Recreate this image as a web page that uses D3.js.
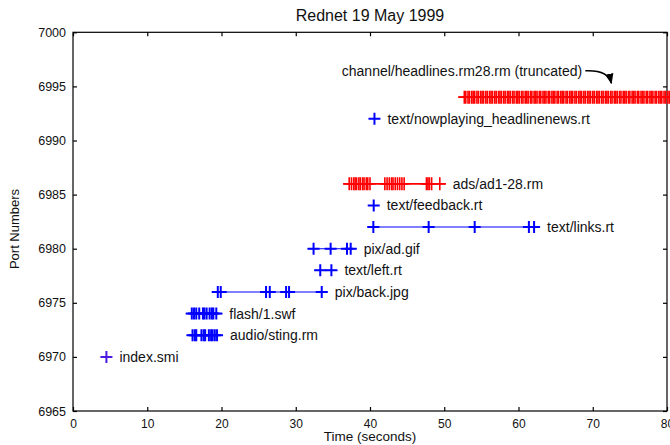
<!DOCTYPE html>
<html><head><meta charset="utf-8">
<script src="https://cdn.jsdelivr.net/npm/d3@7"></script>
<style>
body{margin:0;background:#fff;}
text{font-family:"Liberation Sans",Arial,Helvetica,sans-serif;fill:#111;}
</style></head>
<body><svg id="c" width="670" height="445"></svg>
<script>
// ---- data ----
const title = "Rednet 19 May 1999";
const xTitle = "Time (seconds)";
const yTitle = "Port Numbers";
const xTicks = [0,10,20,30,40,50,60,70,80];
const yTicks = [6965,6970,6975,6980,6985,6990,6995,7000];

const streamNames = ["index.smi","audio/sting.rm","flash/1.swf","pix/back.jpg","text/left.rt",
  "pix/ad.gif","text/links.rt","text/feedback.rt","ads/ad1-28.rm",
  "text/nowplaying_headlinenews.rt","channel/headlines.rm28.rm (truncated)"];
const streamPorts = [6970,6972,6974,6976,6978,6980,6982,6984,6986,6992,6994];
const streamKinds = ["index","blue","blue","blue","blue","blue","blue","blue","red","blue","red"];

const tIndex = [4.5];
const tAudio = [16.1,16.4,16.6,17.3,17.6,17.8,18.3,18.6,18.8,19.1,19.4];
const tFlash = [16.0,16.3,16.6,17.0,17.5,17.7,18.0,18.4,18.7,18.9,19.3];
const tBack = [19.5,19.9,26.0,26.5,28.7,29.1,33.5];
const tLeft = [33.3,34.8];
const tAd = [32.4,34.7,36.9,37.4];
const tLinks = [40.45,47.9,54.1,61.4,62.1];
const tFeedback = [40.5];
const tAds = [37.2,37.5,37.8,38.0,38.2,38.5,38.7,39.0,39.2,39.5,39.7,40.0,
              42.0,42.3,42.6,42.9,43.1,43.4,43.7,44.0,44.3,44.6,
              47.6,47.8,48.0,48.3,49.4];
const tNowplaying = [40.6];
const tHeadlines = [52.7,52.9,53.2,53.4,53.7,53.9,54.1,54.4,54.6,54.9,55.1,55.3,55.6,55.8,56.1,56.3,
  56.5,56.8,57.0,57.3,57.5,57.7,58.0,58.2,58.5,58.7,58.9,59.2,59.4,59.7,59.9,60.1,60.4,60.6,60.9,
  61.1,61.3,61.6,61.8,62.1,62.3,62.5,62.8,63.0,63.3,63.5,63.7,64.0,64.2,64.5,64.7,64.9,65.2,65.4,
  65.7,65.9,66.1,66.4,66.6,66.9,67.1,67.3,67.6,67.8,68.1,68.3,68.5,68.8,69.0,69.3,69.5,69.7,70.0,
  70.2,70.5,70.7,70.9,71.2,71.4,71.7,71.9,72.1,72.4,72.6,72.9,73.1,73.3,73.6,73.8,74.1,74.3,74.5,
  74.8,75.0,75.3,75.5,75.7,76.0,76.2,76.5,76.7,76.9,77.2,77.4,77.7,77.9,78.1,78.4,78.6,78.9,79.1,
  79.3,79.6,79.8,80.1,80.3,80.5];
const streamTimes = [tIndex,tAudio,tFlash,tBack,tLeft,tAd,tLinks,tFeedback,tAds,tNowplaying,tHeadlines];

// ---- drawing ----
const svg = d3.select("#c");
const L = 73, R = 667, T = 32.3, B = 411;
const x = d3.scaleLinear().domain([0,80]).range([L,R]);
const y = d3.scaleLinear().domain([6965,7000]).range([B,T]);

const colorOf = {blue:"#0000ff", red:"#ff0000", index:"#4a1ae0"};

// frame
svg.append("rect").attr("x",L).attr("y",T).attr("width",R-L).attr("height",B-T)
  .attr("fill","none").attr("stroke","#000").attr("stroke-width",1.2);

// axes with inward ticks
const gx = svg.append("g").attr("transform",`translate(0,${B})`)
  .call(d3.axisBottom(x).tickValues(xTicks).tickSizeInner(-4).tickSizeOuter(0).tickPadding(8));
const gxTop = svg.append("g").attr("transform",`translate(0,${T})`)
  .call(d3.axisTop(x).tickValues(xTicks).tickSizeInner(-4).tickSizeOuter(0).tickFormat(""));
const gy = svg.append("g").attr("transform",`translate(${L},0)`)
  .call(d3.axisLeft(y).tickValues(yTicks).tickSizeInner(-4).tickSizeOuter(0).tickPadding(7).tickFormat(d3.format("d")));
const gyR = svg.append("g").attr("transform",`translate(${R},0)`)
  .call(d3.axisRight(y).tickValues(yTicks).tickSizeInner(-4).tickSizeOuter(0).tickFormat(""));
[gx,gxTop,gy,gyR].forEach(g=>{
  g.select(".domain").remove();
  g.selectAll(".tick line").attr("stroke","#000").attr("stroke-width",1.2);
});
gx.selectAll(".tick text").attr("font-size",12).attr("fill","#111")
  .attr("font-family","Liberation Sans,Arial,sans-serif");
gy.selectAll(".tick text").attr("font-size",12.5).attr("fill","#111")
  .attr("font-family","Liberation Sans,Arial,sans-serif");

// titles
svg.append("text").attr("x",(L+R)/2).attr("y",21).attr("text-anchor","middle")
  .attr("font-size",16).text(title);
svg.append("text").attr("x",(L+R)/2).attr("y",441).attr("text-anchor","middle")
  .attr("font-size",13.5).text(xTitle);
svg.append("text").attr("transform","translate(19,229) rotate(-90)").attr("text-anchor","middle")
  .attr("font-size",13).text(yTitle);

// streams
const hs = 6; // cross half size
streamNames.forEach((name,i)=>{
  const ts = streamTimes[i], py = y(streamPorts[i]), kind = streamKinds[i];
  const col = colorOf[kind];
  const g = svg.append("g");
  const isRed = kind==="red";
  if (ts.length>1){
    g.append("line").attr("x1",x(d3.min(ts))-hs).attr("x2",x(d3.max(ts))+hs)
      .attr("y1",py).attr("y2",py).attr("stroke",col).attr("stroke-width",isRed?1.8:1.1);
  }
  g.selectAll("path.m").data(ts).join("path").attr("class","m")
    .attr("d",d=>{const cx=x(d);return `M${cx-hs},${py}H${cx+hs}M${cx},${py-hs-(isRed?0.5:0)}V${py+hs+(isRed?0.5:0)}`;})
    .attr("stroke",col).attr("stroke-width",isRed?1.6:2).attr("fill","none");
  if (i < streamNames.length-1){
    svg.append("text").attr("x",x(d3.max(ts))+13).attr("y",py).attr("dy","0.36em")
      .attr("font-size",14).text(name);
  }
});

// headline annotation with curved arrow
const last = streamNames.length-1;
svg.append("text").attr("x",x(36.2)).attr("y",y(6996.4)).attr("dy","0.36em")
  .attr("font-size",14).text(streamNames[last]);
svg.append("defs").append("marker").attr("id","ah").attr("viewBox","0 0 10 10")
  .attr("refX",9).attr("refY",5).attr("markerWidth",7).attr("markerHeight",7).attr("orient","auto")
  .append("path").attr("d","M0,1L10,5L0,9Z").attr("fill","#000");
const ax0 = x(69.0), ay0 = y(6996.45), ax1 = x(72.5), ay1 = y(6995.3);
svg.append("path").attr("d",`M${ax0},${ay0}Q${ax1-3},${ay0-1} ${ax1},${ay1}`)
  .attr("fill","none").attr("stroke","#000").attr("stroke-width",1.5).attr("marker-end","url(#ah)");
</script></body></html>
